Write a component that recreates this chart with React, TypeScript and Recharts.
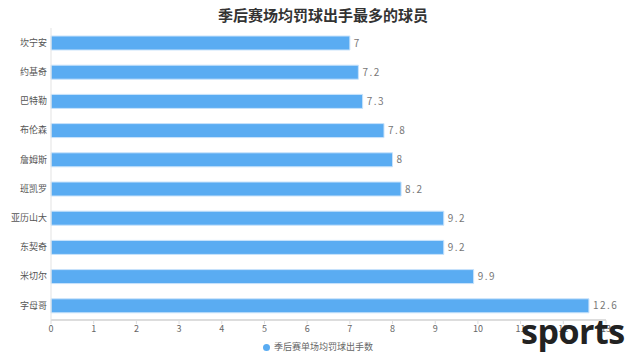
import React from "react";
import { BarChart, Bar, XAxis, YAxis, Legend, LabelList } from "recharts";

const players = ["坎宁安", "约基奇", "巴特勒", "布伦森", "詹姆斯", "班凯罗", "亚历山大", "东契奇", "米切尔", "字母哥"];
const ftaPerGame = [7, 7.2, 7.3, 7.8, 8, 8.2, 9.2, 9.2, 9.9, 12.6];
const xTicks = [0, 1, 2, 3, 4, 5, 6, 7, 8, 9, 10, 11, 12, 13];
const seriesName = "季后赛单场均罚球出手数";

const data = players.map((name, i) => ({ name, value: ftaPerGame[i] }));

const font = "'Noto Sans CJK SC', 'DejaVu Sans', sans-serif";

export default function App() {
  return (
    <div style={{ position: "absolute", left: 0, top: 0, width: 640, height: 362, background: "#fff", fontFamily: font }}>
      <div
        style={{
          position: "absolute",
          top: 4,
          left: 0,
          width: 646,
          textAlign: "center",
          fontSize: 15,
          fontWeight: 700,
          color: "#333",
        }}
      >
        季后赛场均罚球出手最多的球员
      </div>
      <BarChart
        width={640}
        height={362}
        data={data}
        layout="vertical"
        margin={{ top: 28, right: 34, bottom: 0, left: 0 }}
        barSize={14}
      >
        <XAxis
          type="number"
          domain={[0, 13]}
          ticks={xTicks}
          interval={0}
          height={20}
          tick={{ fontSize: 9, fill: "#666", fontFamily: font }}
          axisLine={{ stroke: "#ddd", strokeWidth: 2 }}
          tickLine={{ stroke: "#ddd" }}
          tickSize={4}
        />
        <YAxis
          type="category"
          dataKey="name"
          width={51}
          tick={{ fontSize: 9, fill: "#555", fontFamily: font }}
          axisLine={{ stroke: "#e3e3e3" }}
          tickLine={false}
          tickSize={2}
        />
        <Legend
          verticalAlign="bottom"
          height={22}
          iconType="circle"
          iconSize={7}
          wrapperStyle={{ left: 0, width: 646, fontSize: 9, fontFamily: font }}
          formatter={(value) => <span style={{ color: "#666" }}>{value}</span>}
        />
        <Bar
          dataKey="value"
          name={seriesName}
          fill="#5aacf2"
          stroke="#c9e3fb"
          strokeWidth={1}
          isAnimationActive={false}
          legendType="circle"
        >
          <LabelList
            dataKey="value"
            position="right"
            offset={4}
            style={{ fontSize: 10, fill: "#777", letterSpacing: 1.5, fontFamily: font }}
          />
        </Bar>
      </BarChart>
      <div
        style={{
          position: "absolute",
          left: 521,
          top: 308,
          fontSize: 34,
          fontWeight: 700,
          color: "#222",
          fontFamily: "'Open Sans', sans-serif",
          letterSpacing: -0.5,
        }}
      >
        sports
      </div>
    </div>
  );
}
